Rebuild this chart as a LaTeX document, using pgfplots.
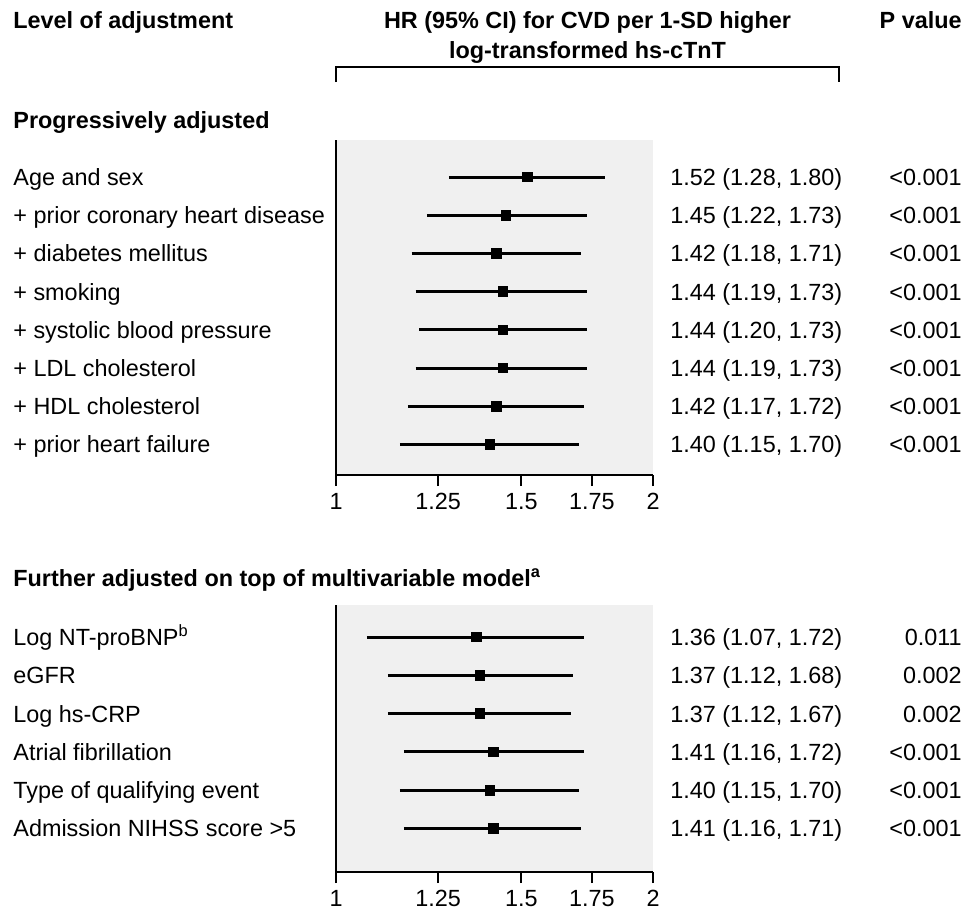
\documentclass[border=0pt]{standalone}
\usepackage{fontspec}
\setmainfont{Liberation Sans}
\usepackage{pgfplots}
\pgfplotsset{compat=1.18}
\newcommand\fs{\fontsize{11.7pt}{14pt}\selectfont}
\definecolor{panelgray}{RGB}{240,240,240}
\begin{document}
\begin{tikzpicture}
\useasboundingbox (0pt,0pt) rectangle (483.5pt,-455.5pt);

% panel 1
\begin{axis}[
    xmode=log, xmin=1, xmax=2,
    scale only axis, width=158.5pt, height=167.5pt,
    at={(168pt,-237.5pt)}, anchor=south west,
    ymin=-8.80, ymax=-0.031,
    xtick={1,1.25,1.5,1.75,2},
    xticklabels={1,1.25,1.5,1.75,2},
    ytick=\empty,
    axis x line*=bottom, axis y line*=left,
    axis line style={line width=1pt, black, -},
    tick align=outside, major tick length=5.5pt,
    every tick/.style={line width=1pt, black},
    axis background/.style={fill=panelgray},
    tick label style={font=\fs},
    /pgf/number format/assume math mode=true,
    clip=false]
\addplot[line width=1.5pt, black] coordinates {(1.28,-1) (1.80,-1)};
\addplot[line width=1.5pt, black] coordinates {(1.22,-2) (1.73,-2)};
\addplot[line width=1.5pt, black] coordinates {(1.18,-3) (1.71,-3)};
\addplot[line width=1.5pt, black] coordinates {(1.19,-4) (1.73,-4)};
\addplot[line width=1.5pt, black] coordinates {(1.20,-5) (1.73,-5)};
\addplot[line width=1.5pt, black] coordinates {(1.19,-6) (1.73,-6)};
\addplot[line width=1.5pt, black] coordinates {(1.17,-7) (1.72,-7)};
\addplot[line width=1.5pt, black] coordinates {(1.15,-8) (1.70,-8)};
\addplot[only marks, mark=square*, mark size=2.4pt, black] coordinates {(1.52,-1) (1.45,-2) (1.42,-3) (1.44,-4) (1.44,-5) (1.44,-6) (1.42,-7) (1.40,-8)};
\end{axis}

% panel 2
\begin{axis}[
    xmode=log, xmin=1, xmax=2,
    scale only axis, width=158.5pt, height=133.5pt,
    at={(168pt,-436pt)}, anchor=south west,
    ymin=-7.136, ymax=-0.164,
    xtick={1,1.25,1.5,1.75,2},
    xticklabels={1,1.25,1.5,1.75,2},
    ytick=\empty,
    axis x line*=bottom, axis y line*=left,
    axis line style={line width=1pt, black, -},
    tick align=outside, major tick length=5.5pt,
    every tick/.style={line width=1pt, black},
    axis background/.style={fill=panelgray},
    tick label style={font=\fs},
    /pgf/number format/assume math mode=true,
    clip=false]
\addplot[line width=1.5pt, black] coordinates {(1.07,-1) (1.72,-1)};
\addplot[line width=1.5pt, black] coordinates {(1.12,-2) (1.68,-2)};
\addplot[line width=1.5pt, black] coordinates {(1.12,-3) (1.67,-3)};
\addplot[line width=1.5pt, black] coordinates {(1.16,-4) (1.72,-4)};
\addplot[line width=1.5pt, black] coordinates {(1.15,-5) (1.70,-5)};
\addplot[line width=1.5pt, black] coordinates {(1.16,-6) (1.71,-6)};
\addplot[only marks, mark=square*, mark size=2.4pt, black] coordinates {(1.36,-1) (1.37,-2) (1.37,-3) (1.41,-4) (1.40,-5) (1.41,-6)};
\end{axis}

\begin{scope}[x=0.5pt,y=-0.5pt, lab/.style={inner sep=0pt, font=\fs}, hd/.style={inner sep=0pt, font=\fs\bfseries}]
% headers
\node[hd, anchor=base west] at (13,28.4) {Level of adjustment};
\node[hd, anchor=base] at (587.5,28.4) {HR (95\% CI) for CVD per 1-SD higher};
\node[hd, anchor=base] at (587.5,58.4) {log-transformed hs-cTnT};
\node[hd, anchor=base east] at (962,28.4) {P value};
\draw[line width=1pt] (336,82) -- (336,67) -- (839,67) -- (839,82);

\node[hd, anchor=base west] at (13,128.4) {Progressively adjusted};
\node[hd, anchor=base west] at (13,586.4) {Further adjusted on top of multivariable model\textsuperscript{a}};

% panel 1 text
\foreach \y/\lbl/\hr/\p in {
  185.4/{Age and sex}/{1.52 (1.28, 1.80)}/{<0.001},
  223.6/{+ prior coronary heart disease}/{1.45 (1.22, 1.73)}/{<0.001},
  261.8/{+ diabetes mellitus}/{1.42 (1.18, 1.71)}/{<0.001},
  300.0/{+ smoking}/{1.44 (1.19, 1.73)}/{<0.001},
  338.2/{+ systolic blood pressure}/{1.44 (1.20, 1.73)}/{<0.001},
  376.4/{+ LDL cholesterol}/{1.44 (1.19, 1.73)}/{<0.001},
  414.6/{+ HDL cholesterol}/{1.42 (1.17, 1.72)}/{<0.001},
  452.8/{+ prior heart failure}/{1.40 (1.15, 1.70)}/{<0.001}}{
  \node[lab, anchor=base west] at (13,\y) {\lbl};
  \node[lab, anchor=base west] at (670,\y) {\hr};
  \node[lab, anchor=base east] at (962,\y) {\p};
}
% panel 2 text
\foreach \y/\lbl/\hr/\p in {
  645.4/{Log NT-proBNP\textsuperscript{b}}/{1.36 (1.07, 1.72)}/{0.011},
  683.7/{eGFR}/{1.37 (1.12, 1.68)}/{0.002},
  722.0/{Log hs-CRP}/{1.37 (1.12, 1.67)}/{0.002},
  760.3/{Atrial fibrillation}/{1.41 (1.16, 1.72)}/{<0.001},
  798.6/{Type of qualifying event}/{1.40 (1.15, 1.70)}/{<0.001},
  836.9/{Admission NIHSS score >5}/{1.41 (1.16, 1.71)}/{<0.001}}{
  \node[lab, anchor=base west] at (13,\y) {\lbl};
  \node[lab, anchor=base west] at (670,\y) {\hr};
  \node[lab, anchor=base east] at (962,\y) {\p};
}
\end{scope}
\end{tikzpicture}
\end{document}
